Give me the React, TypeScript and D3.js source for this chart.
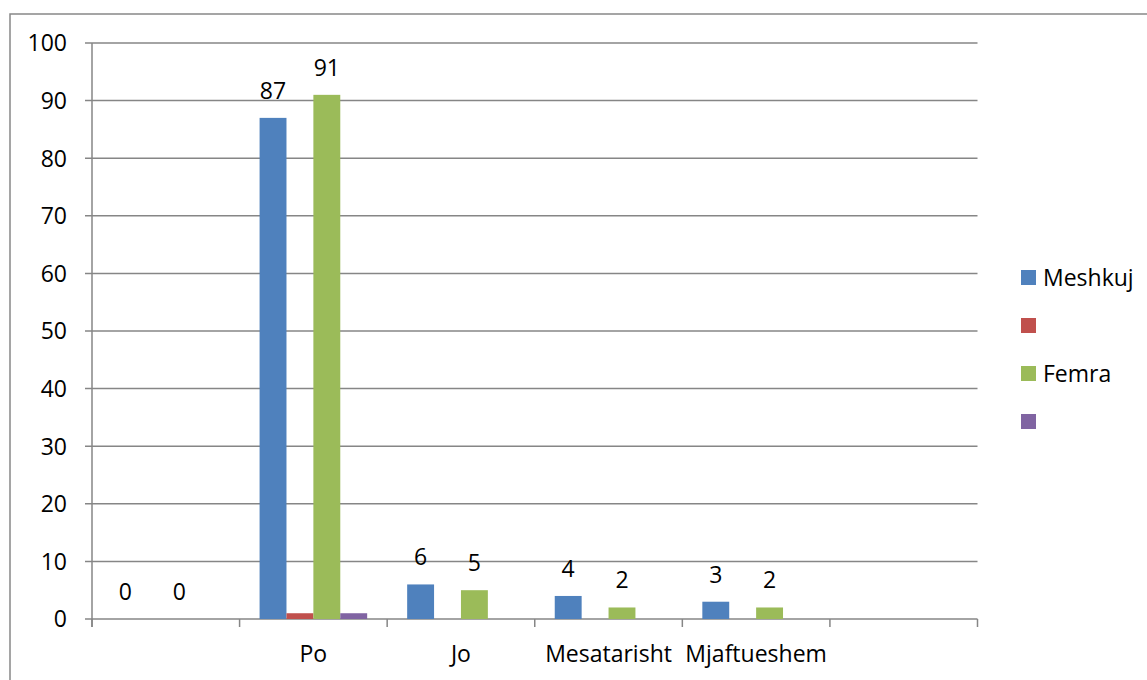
import React from "react";
import * as d3 from "d3";

const categories = ["", "Po", "Jo", "Mesatarisht", "Mjaftueshem", " "];
const seriesNames = ["Meshkuj", "", "Femra", ""];
const meshkuj: (number | null)[] = [0, 87, 6, 4, 3, null];
const series2: (number | null)[] = [null, 1, null, null, null, null];
const femra: (number | null)[] = [0, 91, 5, 2, 2, null];
const series4: (number | null)[] = [null, 1, null, null, null, null];
const seriesValues = [meshkuj, series2, femra, series4];
const seriesColors = ["#4F81BD", "#C0504D", "#9BBB59", "#8064A2"];
const labeledSeries = [true, false, true, false];
const yTicks = [0, 10, 20, 30, 40, 50, 60, 70, 80, 90, 100];

const W = 1147;
const H = 680;
const left = 92;
const right = 977.5;
const top = 43;
const bottom = 619;
const FONT = "'Open Sans', sans-serif";
const FS = 23;
const GRID = "#868686";

export default function App() {
  const x0 = d3.scaleBand<string>().domain(categories).range([left, right]).padding(0);
  const bw = x0.bandwidth();
  const gap = bw * 40 / 147.6;
  const x1 = d3
    .scaleBand<number>()
    .domain(d3.range(seriesValues.length))
    .range([gap / 2, bw - gap / 2])
    .padding(0);
  const y = d3.scaleLinear().domain([0, 100]).range([bottom, top]);

  const catTicks = categories.map((c) => x0(c)!).concat([right]);

  return (
    <svg
      width={W}
      height={H}
      style={{ position: "absolute", left: 0, top: 0, background: "#fff" }}
      fontFamily={FONT}
    >
      <rect x={0} y={0} width={W} height={H} fill="#fff" />
      <rect x={10} y={14} width={W + 20} height={H + 20} fill="none" stroke="#888" strokeWidth={1.5} />
      {/* gridlines */}
      {yTicks.map((t) => (
        <g key={t}>
          <line x1={left - 7} x2={right} y1={y(t)} y2={y(t)} stroke={GRID} strokeWidth={1.5} />
          <text x={67} y={y(t) + 8.3} textAnchor="end" fontSize={FS} fill="#000">
            {t}
          </text>
        </g>
      ))}
      {/* y axis */}
      <line x1={left} x2={left} y1={top} y2={bottom + 8} stroke={GRID} strokeWidth={1.5} />
      {/* category ticks */}
      {catTicks.map((cx, i) => (
        <line key={i} x1={cx} x2={cx} y1={bottom} y2={bottom + 8} stroke={GRID} strokeWidth={1.5} />
      ))}
      {/* bars */}
      {seriesValues.map((vals, si) =>
        vals.map((v, ci) =>
          v === null || v === 0 ? null : (
            <rect
              key={`${si}-${ci}`}
              x={x0(categories[ci])! + x1(si)!}
              y={y(v)}
              width={x1.bandwidth()}
              height={y(0) - y(v)}
              fill={seriesColors[si]}
            />
          )
        )
      )}
      {/* value labels */}
      {seriesValues.map((vals, si) =>
        labeledSeries[si]
          ? vals.map((v, ci) =>
              v === null ? null : (
                <text
                  key={`l${si}-${ci}`}
                  x={x0(categories[ci])! + x1(si)! + x1.bandwidth() / 2}
                  y={y(v) - 19}
                  textAnchor="middle"
                  fontSize={FS}
                  fill="#000"
                >
                  {v}
                </text>
              )
            )
          : null
      )}
      {/* category labels */}
      {categories.map((c) => (
        <text
          key={"c" + c}
          x={x0(c)! + bw / 2}
          y={662}
          textAnchor="middle"
          fontSize={FS}
          fill="#000"
        >
          {c.trim()}
        </text>
      ))}
      {/* legend */}
      {seriesNames.map((n, i) => (
        <g key={"lg" + i} transform={`translate(1021, ${270 + i * 48})`}>
          <rect x={0} y={0} width={15} height={15} fill={seriesColors[i]} />
          <text x={22} y={7.5 + 8.3} fontSize={FS} fill="#000">
            {n}
          </text>
        </g>
      ))}
    </svg>
  );
}
